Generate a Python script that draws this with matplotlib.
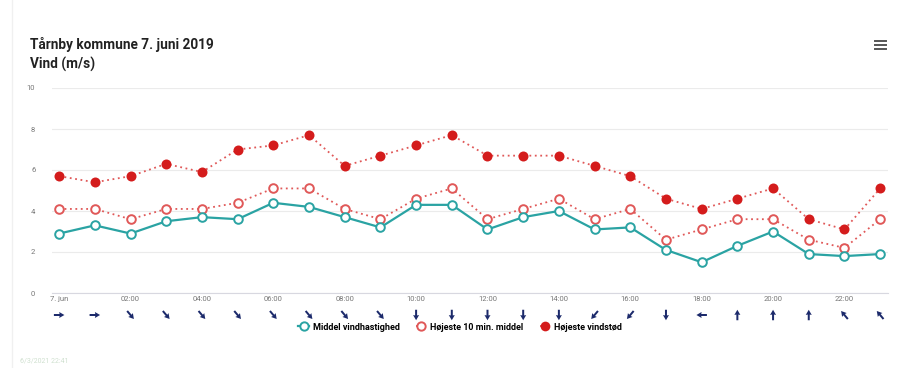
import numpy as np
import matplotlib
matplotlib.use("Agg")
import matplotlib.pyplot as plt
from matplotlib.lines import Line2D

hours = list(range(24))
tick_labels = ["7. jun", "02:00", "04:00", "06:00", "08:00", "10:00",
               "12:00", "14:00", "16:00", "18:00", "20:00", "22:00"]
mean_speed = [2.9, 3.3, 2.9, 3.5, 3.7, 3.6, 4.4, 4.2, 3.7, 3.2, 4.3, 4.3,
              3.1, 3.7, 4.0, 3.1, 3.2, 2.1, 1.5, 2.3, 3.0, 1.9, 1.8, 1.9]
max_10min = [4.1, 4.1, 3.6, 4.1, 4.1, 4.4, 5.1, 5.1, 4.1, 3.6, 4.6, 5.1,
             3.6, 4.1, 4.6, 3.6, 4.1, 2.6, 3.1, 3.6, 3.6, 2.6, 2.2, 3.6]
max_gust = [5.7, 5.4, 5.7, 6.3, 5.9, 7.0, 7.2, 7.7, 6.2, 6.7, 7.2, 7.7,
            6.7, 6.7, 6.7, 6.2, 5.7, 4.6, 4.1, 4.6, 5.1, 3.6, 3.1, 5.1]
# wind direction (degrees, where the wind comes from)
wind_from = [270, 270, 320, 320, 320, 320, 320, 320, 320, 320, 0, 0,
             0, 0, 0, 40, 40, 0, 90, 180, 180, 180, 140, 140]

plt.rcParams["font.family"] = ["Roboto", "DejaVu Sans"]

TEAL = "#2aa3a3"
RED = "#d41c1c"
RED_L = "#e05858"
NAVY = "#1c2a6b"

W, H = 899, 368
fig = plt.figure(figsize=(W / 100, H / 100), dpi=100)
fig.patch.set_facecolor("white")

left, right = 52, 888
top, bottom = 88, 293
ax = fig.add_axes([left / W, 1 - bottom / H, (right - left) / W, (bottom - top) / H])

ax.plot(hours, max_gust, color=RED_L, lw=1.3, ls=(0, (1, 2)),
        marker="o", ms=7.2, mfc=RED, mec=RED, mew=0, zorder=3)
ax.plot(hours, max_10min, color=RED_L, lw=1.3, ls=(0, (1, 2)),
        marker="o", ms=6.2, mfc="white", mec=RED_L, mew=1.4, zorder=3)
ax.plot(hours, mean_speed, color=TEAL, lw=1.6,
        marker="o", ms=6.2, mfc="white", mec=TEAL, mew=1.4, zorder=4)

ax.set_xlim(-0.2, 23.22)
ax.set_ylim(0, 10)
ax.set_yticks([0, 2, 4, 6, 8, 10])
ax.set_xticks(hours[::2])
ax.set_xticklabels(tick_labels)
ax.grid(axis="y", color="#ebebeb", lw=0.8)
for s in ["top", "right", "left"]:
    ax.spines[s].set_visible(False)
ax.spines["bottom"].set_color("#d8d8e0")
ax.tick_params(axis="both", length=0, labelsize=5.5, labelcolor="#777777")
ax.tick_params(axis="x", pad=2)
ax.tick_params(axis="y", pad=12)

# wind direction arrows row
axa = fig.add_axes([left / W, 1 - 322 / H, (right - left) / W, 14 / H])
axa.set_xlim(ax.get_xlim())
axa.set_ylim(0, 1)
axa.axis("off")
b = np.deg2rad(np.array(wind_from) + 180)
u = np.sin(b)
v = np.cos(b)
axa.quiver(hours, [0.5] * 24, u, v, angles="uv", pivot="middle",
           scale_units="dots", scale=1 / 10.5, units="dots", width=2.0,
           headwidth=3.0, headlength=2.6, headaxislength=2.4, color=NAVY)

# legend
handles = [
    Line2D([], [], color=TEAL, lw=1.6, marker="o", ms=6, mfc="white", mec=TEAL, mew=1.4),
    Line2D([], [], color=RED_L, lw=1.3, ls=(0, (1, 2)), marker="o", ms=6, mfc="white", mec=RED_L, mew=1.4),
    Line2D([], [], color=RED_L, lw=1.3, ls=(0, (1, 2)), marker="o", ms=7, mfc=RED, mec=RED, mew=0),
]
labels = ["Middel vindhastighed", "Højeste 10 min. middel", "Højeste vindstød"]
fig.legend(handles, labels, loc="center", bbox_to_anchor=(460 / W, 1 - 327 / H),
           ncol=3, frameon=False, handlelength=1.2, handletextpad=0.4,
           columnspacing=1.8, prop={"weight": "bold", "size": 6.5})

# titles
fig.text(30 / W, 1 - 44 / H, "Tårnby kommune 7. juni 2019", fontsize=9.8,
         fontweight="bold", color="#222222", va="center", ha="left")
fig.text(30 / W, 1 - 64 / H, "Vind (m/s)", fontsize=9.8,
         fontweight="bold", color="#222222", va="center", ha="left")

# hamburger menu icon
for yy in (41, 45, 49):
    fig.add_artist(Line2D([875 / W, 886 / W], [1 - yy / H, 1 - yy / H],
                          color="#555555", lw=1.4, transform=fig.transFigure))

# card border and timestamp
fig.add_artist(Line2D([12 / W, 12 / W], [0, 1], color="#f0f0f0", lw=1.0,
                      transform=fig.transFigure))
fig.text(20 / W, 1 - 361 / H, "6/3/2021 22:41", fontsize=5, color="#cfe0cf",
         va="center", ha="left")

fig.savefig("out.png", dpi=100, facecolor="white")
